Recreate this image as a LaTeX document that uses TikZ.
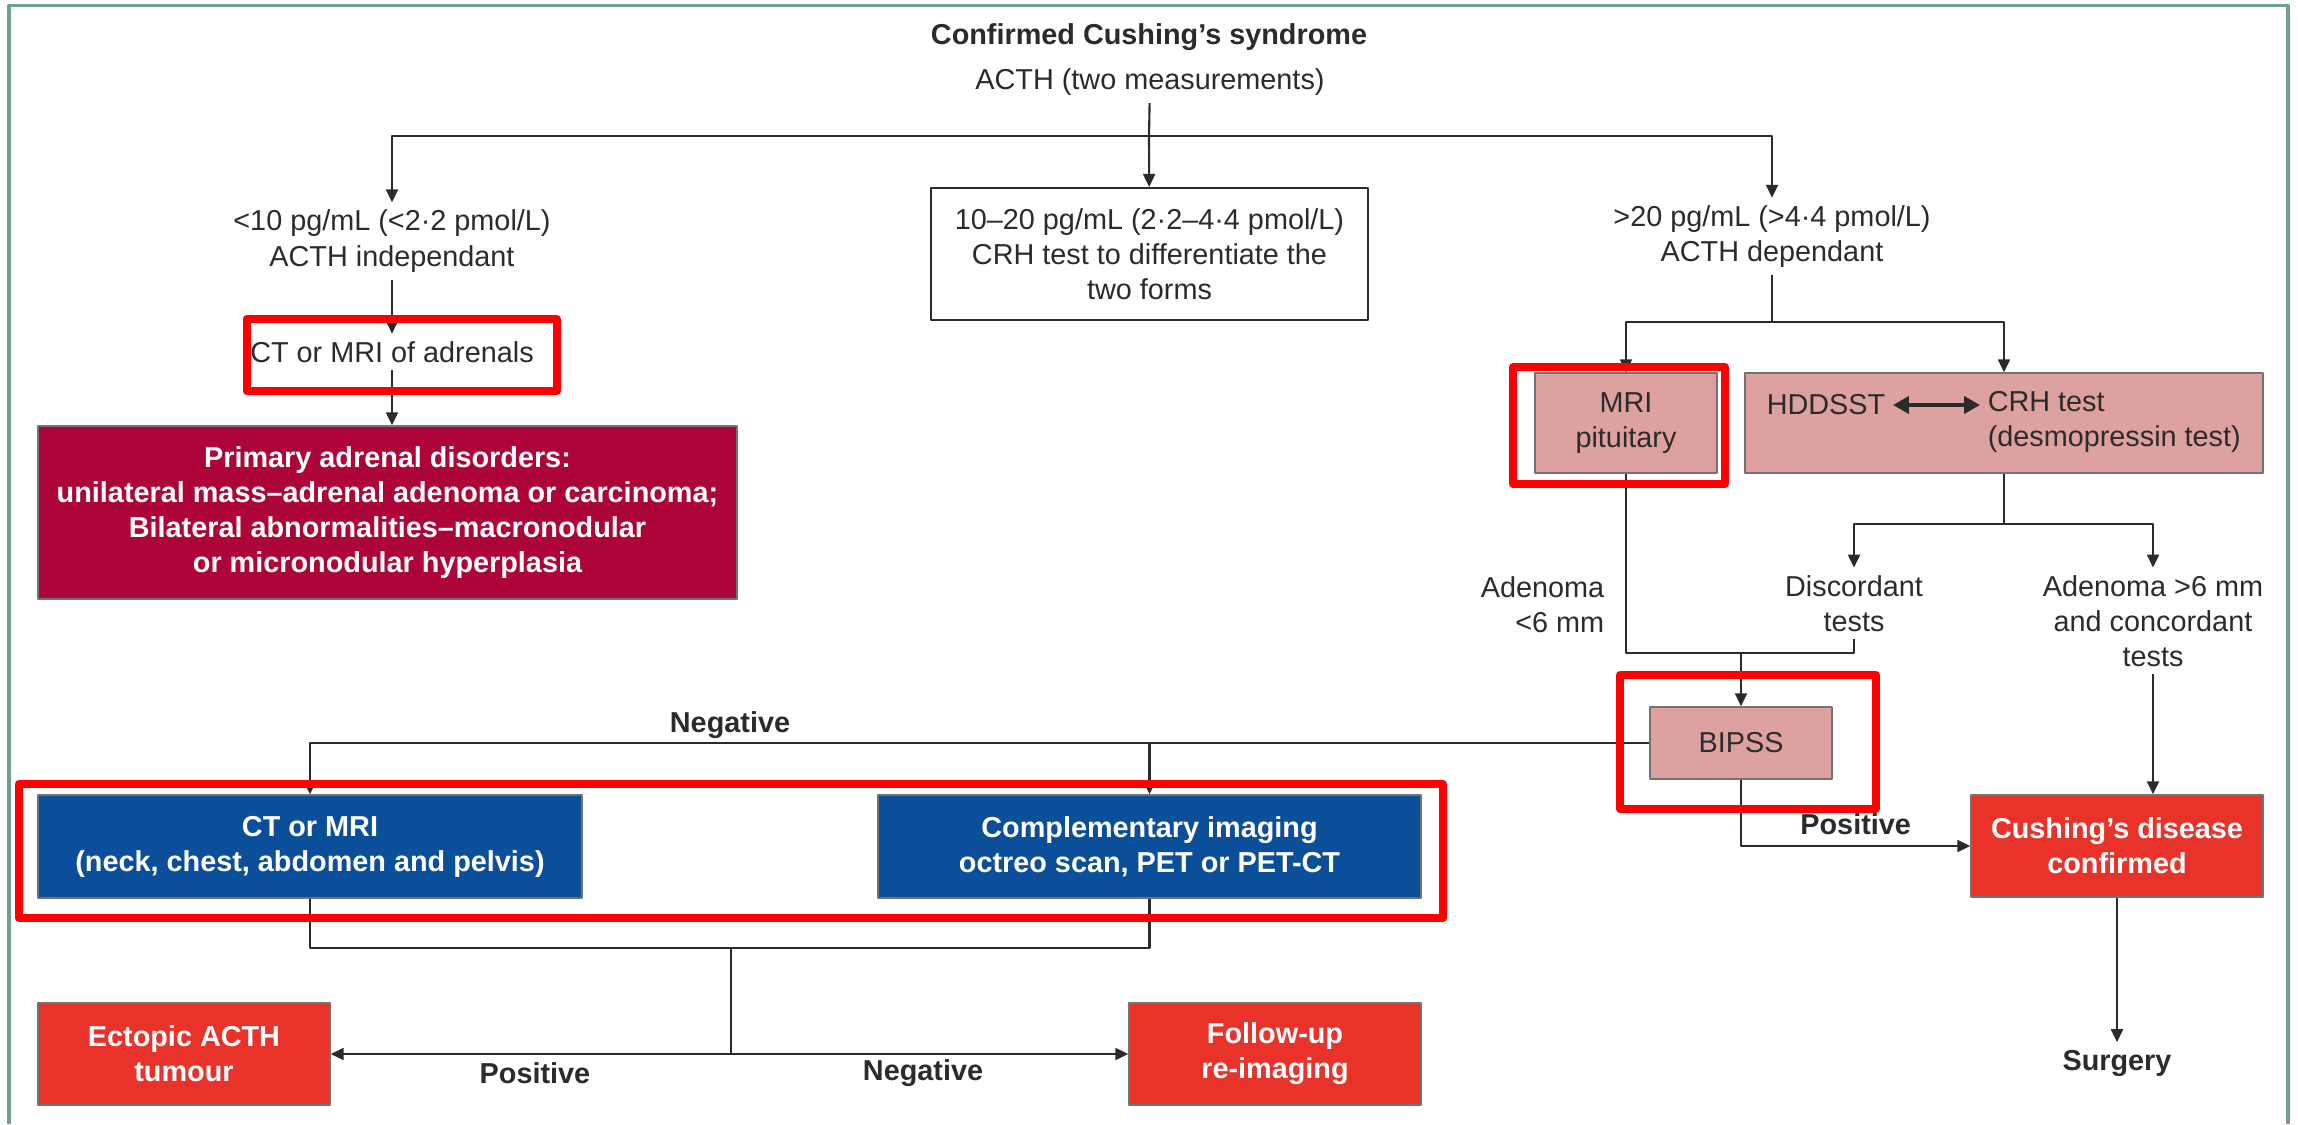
\documentclass[tikz,border=0pt]{standalone}
\usepackage{fontspec}
\setmainfont{Liberation Sans}
\usetikzlibrary{arrows.meta}
\definecolor{frameline}{HTML}{6F9F8F}
\definecolor{crimson}{HTML}{AD0539}
\definecolor{lancetblue}{HTML}{0B4F9B}
\definecolor{lancetred}{HTML}{E8322A}
\definecolor{pinkbox}{HTML}{DDA2A0}
\definecolor{ink}{HTML}{2B2B2B}
\def\fs{\fontsize{8.2}{10}\selectfont}
\begin{document}
\begin{tikzpicture}[x=.1mm,y=-.1mm,>={Triangle[length=1.3mm,width=1.2mm]},line join=round,
  every node/.style={inner sep=2pt,text=ink,align=center,font=\fs},
  line/.style={draw=ink,line width=.6pt},
  box/.style={draw=black!55,line width=.4pt},
  whitebox/.style={draw=ink,line width=.6pt,fill=white},
  pinkb/.style={box,fill=pinkbox,minimum height=10mm},
  crimb/.style={box,fill=crimson,text=white,font=\fs\bfseries},
  blueb/.style={box,fill=lancetblue,text=white,font=\fs\bfseries,minimum height=10.3mm},
  redb/.style={box,fill=lancetred,text=white,font=\fs\bfseries,minimum width=29.2mm,minimum height=10.2mm},
  lab/.style={font=\fs\bfseries},
  hilite/.style={draw=red,line width=.8mm}]
\useasboundingbox (0,0) rectangle (2298,1124);
\draw[frameline,line width=.35mm] (9,1124) -- (9,5.5) -- (2288,5.5) -- (2288,1124);
% top of the tree
\node[lab] (title) at (1149,37) {Confirmed Cushing’s syndrome};
\node (acth) at (1150,82) {ACTH (two measurements)};
\node (low) at (392,241) {<10 pg/mL (<2·2 pmol/L)\\ACTH independant};
\node[whitebox,minimum width=43.7mm,minimum height=13.2mm] (mid) at (1149.5,254) {10–20 pg/mL (2·2–4·4 pmol/L)\\CRH test to differentiate the\\two forms};
\node (high) at (1772,236.5) {>20 pg/mL (>4·4 pmol/L)\\ACTH dependant};
\coordinate (split) at (1149,136);
\draw[line] (acth) -- (split);
\draw[line,->] (split) -| (low);
\draw[line,->] (split) -- (mid);
\draw[line,->] (split) -| (high);
% ACTH independent
\node (adrct) at (392,352) {CT or MRI of adrenals};
\node[crimb,minimum width=69.9mm,minimum height=17.3mm] (primary) at (387.5,512.5) {Primary adrenal disorders:\\unilateral mass–adrenal adenoma or carcinoma;\\Bilateral abnormalities–macronodular\\or micronodular hyperplasia};
\draw[line,->] (low) -- (adrct);
\draw[line,->] (adrct) -- (adrct |- primary.north);
% ACTH dependent
\node[pinkb,minimum width=18.2mm] (mri) at (1626,423) {MRI\\pituitary};
\node[pinkb,minimum width=51.8mm] (hdd) at (2004,423) {};
\node (hddsst) at (1826,405) {HDDSST};
\node[anchor=west,align=left] (crh) at (1980,421.5) {CRH test\\(desmopressin test)};
\draw[line,line width=1.2pt,<->,>={Triangle[length=1.6mm,width=1.7mm]}] (hddsst.east) -- (hddsst.east -| crh.west);
\coordinate (rsplit) at (1772,322);
\draw[line] (high) -- (rsplit);
\draw[line,->] (rsplit) -| (mri);
\draw[line,->] (rsplit) -| (hdd);
\node[anchor=east,align=right] (adsmall) at (1612,605) {Adenoma\\<6 mm};
\node (disc) at (1854,603.5) {Discordant\\tests};
\node (adbig) at (2153,621) {Adenoma >6 mm\\and concordant\\tests};
\coordinate (hsplit) at (2004,524);
\draw[line] (hdd) -- (hsplit);
\draw[line,->] (hsplit) -| (disc);
\draw[line,->] (hsplit) -| (adbig);
\node[pinkb,minimum width=18.2mm,minimum height=7.2mm] (bipss) at (1741,743) {BIPSS};
\coordinate (bjoin) at (1741,653);
\draw[line] (mri) |- (bjoin) -| (disc);
\draw[line,->] (bjoin) -- (bipss);
\node[redb] (cush) at (2117,846) {Cushing’s disease\\confirmed};
\node[lab] (surgery) at (2117,1063) {Surgery};
\draw[line,->] (adbig) -- (adbig |- cush.north);
\draw[line,->] (bipss) |- (cush) node[lab,pos=.75,above=1pt] (posright) {Positive};
\draw[line,->] (cush) -- (surgery);
% imaging for ectopic source
\node[blueb,minimum width=54.4mm] (ctmri) at (310,846.5) {CT or MRI\\(neck, chest, abdomen and pelvis)};
\node[blueb,minimum width=54.3mm] (compl) at (1149.5,846.5) {Complementary imaging\\octreo scan, PET or PET-CT};
\draw[line,->] (bipss) -| (ctmri);
\draw[line,->] (bipss -| compl) -- (compl);
\node[lab] (negtop) at (730,725) {Negative};
\node[redb] (ectopic) at (184,1054) {Ectopic ACTH\\tumour};
\node[redb] (follow) at (1275,1054) {Follow-up\\re-imaging};
\coordinate (bjoin2) at (731,948);
\coordinate (fork) at (731,1054);
\draw[line] (ctmri) |- (bjoin2) -| (compl);
\draw[line] (bjoin2) -- (fork);
\draw[line,->] (fork) -- (ectopic);
\draw[line,->] (fork) -- (follow);
\node[lab] (posbot) at (535,1073) {Positive};
\node[lab] (negbot) at (923,1073) {Negative};
% red marks
\draw[hilite] (246.5,319) rectangle (556.5,391);
\draw[hilite] (1513,367) rectangle (1725,484);
\draw[hilite] (1620,675) rectangle (1876,809);
\draw[hilite] (19,784) rectangle (1443,918);
\end{tikzpicture}
\end{document}
